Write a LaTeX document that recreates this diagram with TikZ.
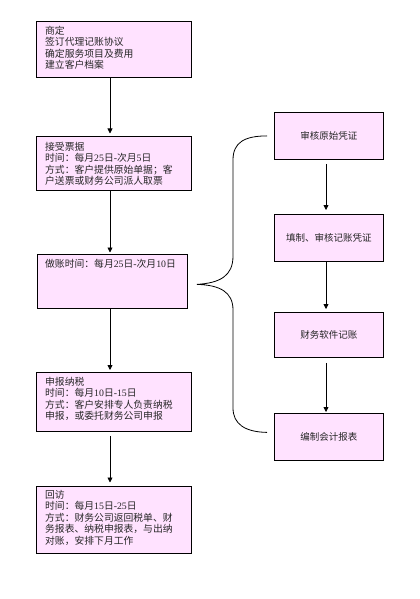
\documentclass[tikz,border=0pt]{standalone}
\usepackage{fontspec}
\setmainfont{Noto Sans CJK SC}
\newfontfamily\latn{Liberation Serif}
\newcommand\nm[1]{{\latn #1}}
\usetikzlibrary{arrows.meta,calc}
\definecolor{boxfill}{RGB}{255,226,255}
\begin{document}
\begin{tikzpicture}[x=1bp,y=-1bp,
  lbox/.style={draw=black, line width=0.8bp, fill=boxfill, anchor=north west, inner sep=0pt, minimum width=155bp},
  rbox/.style={draw=black, line width=0.8bp, fill=boxfill, anchor=north west, inner sep=0pt, minimum width=109bp, minimum height=47bp, align=center, font=\fontsize{9.5bp}{11.5bp}\selectfont, text=black!85},
  txt/.style={anchor=north west, inner sep=0pt, align=left, font=\fontsize{9.8bp}{11.5bp}\selectfont, text=black!85},
  conn/.style={draw=black, line width=0.8bp},
  arr/.style={conn, -{Triangle[length=5bp,width=5bp]}}]
\fill[white] (0,0) rectangle (419,599);
% left column
\node[lbox, minimum height=56bp] (b1) at (36,21) {};
\node[lbox, minimum height=54bp] (b2) at (36,136) {};
\node[lbox, minimum width=150bp, minimum height=54bp] (b3) at (37,254) {};
\node[lbox, minimum height=59bp] (b4) at (36,372) {};
\node[lbox, minimum height=67bp] (b5) at (36,486) {};
\node[txt] (t1) at ([shift={(9bp,-5bp)}]b1.north west) {商定\\签订代理记账协议\\确定服务项目及费用\\建立客户档案};
\node[txt] (t2) at ([shift={(9bp,-6bp)}]b2.north west) {接受票据\\时间：每月\nm{25}日\nm{-}次月\nm{5}日\\方式：客户提供原始单据；客\\户送票或财务公司派人取票};
\node[txt] (t3) at ([shift={(8bp,-5bp)}]b3.north west) {做账时间：每月\nm{25}日\nm{-}次月\nm{10}日};
\node[txt] (t4) at ([shift={(9bp,-5bp)}]b4.north west) {申报纳税\\时间：每月\nm{10}日\nm{-15}日\\方式：客户安排专人负责纳税\\申报，或委托财务公司申报};
\node[txt] (t5) at ([shift={(9bp,-4bp)}]b5.north west) {回访\\时间：每月\nm{15}日\nm{-25}日\\方式：财务公司返回税单、财\\务报表、纳税申报表，与出纳\\对账，安排下月工作};
% right column
\node[rbox] (r1) at (274,112) {审核原始凭证};
\node[rbox] (r2) at (274,214) {填制、审核记账凭证};
\node[rbox, minimum height=45bp] (r3) at (274,312) {财务软件记账};
\node[rbox] (r4) at (274,413) {编制会计报表};
% connectors
\coordinate (lx) at (110,0);
\coordinate (rx) at (326,0);
\draw[arr, shorten >=2.5bp] (b1.south -| lx) -- (b2.north -| lx);
\draw[arr, shorten >=1.5bp] (b2.south -| lx) -- (b3.north -| lx);
\draw[arr, shorten >=2bp] (b3.south -| lx) -- (b4.north -| lx);
\draw[arr, shorten <=4bp, shorten >=3.5bp] (b4.south -| lx) -- (b5.north -| lx);
\draw[arr, shorten <=4bp, shorten >=4bp] (r1.south -| rx) -- (r2.north -| rx);
\draw[arr, shorten >=3bp] (r2.south -| rx) -- (r3.north -| rx);
\draw[arr, shorten <=5bp, shorten >=1bp] (r3.south -| rx) -- (r4.north -| rx);
% brace
\coordinate (bt) at ([xshift=-7bp]r1.west);
\coordinate (bb) at ([shift={(-7bp,4.5bp)}]r4.west);
\coordinate (tip) at ([shift={(9bp,-3bp)}]b3.east);
\draw[conn] (bt) .. controls (245,136) and (233,142) .. (233,160)
  -- (233,256) .. controls (233,276) and (220,283) .. (tip)
  .. controls (220,285) and (233,292) .. (233,310)
  -- (233,408) .. controls (233,424) and (245,432) .. (bb);
\end{tikzpicture}
\end{document}
